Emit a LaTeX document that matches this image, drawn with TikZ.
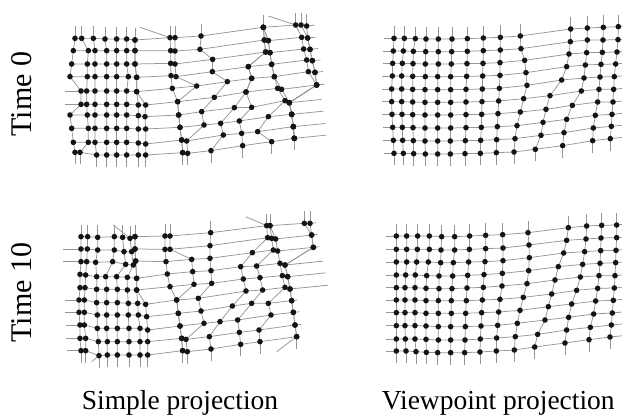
\documentclass[tikz,border=0pt]{standalone}
\usepackage{fontspec}
\setmainfont{Liberation Serif}
\definecolor{linegray}{RGB}{150,150,150}
\definecolor{dotblack}{RGB}{20,20,20}
\tikzset{
  gridline/.style={draw=linegray,line width=0.75pt},
  gdot/.style={fill=dotblack},
  sidelbl/.style={inner sep=0pt,anchor=base west,rotate=90,font=\fontsize{30}{32}\selectfont},
  botlbl/.style={inner sep=0pt,anchor=base west,font=\fontsize{27.5}{30}\selectfont}
}
\newcommand\mkcol[3]{\foreach \px/\py [count=\ri from 0] in {#3} {\coordinate (#1-#2-\ri) at (\px,\py);}}
\newcommand\gridpanel[2]{%
  \foreach \ci in {0,...,#2}{%
    \draw[gridline] (#1-\ci-0) \foreach \ri in {1,...,9}{ -- (#1-\ci-\ri)};
    \draw[gridline] (#1-\ci-0) -- ++(0,-12);
    \draw[gridline] (#1-\ci-9) -- ++(0,12);
  }
  \foreach \ri in {0,...,9}{%
    \draw[gridline] (#1-0-\ri) \foreach \ci in {1,...,#2}{ -- (#1-\ci-\ri)};
  }
}
\newcommand\dotpanel[2]{\foreach \ci in {0,...,#2}{\foreach \ri in {0,...,9}{\fill[gdot] (#1-\ci-\ri) circle (2.8);}}}
\newcommand\rstub[3]{\foreach \ri/\sl in {#3}{\draw[gridline] (#1-#2-\ri) -- ++(\sl,{-\sl/10});}}
\newcommand\lstub[2]{\foreach \ri/\sl in {#2}{\draw[gridline] (#1-0-\ri) -- ++(-\sl,0);}}
\begin{document}
\begin{tikzpicture}[x=1pt,y=-1pt]
\useasboundingbox (0,0) rectangle (622,417);
\clip (0,0) rectangle (622,417);

% ---------------- Top left: simple projection, time 0
\begin{scope}[shift={(55,15)},x=0.33333pt,y=-0.33333pt]
\mkcol{TL}{0}{60/70, 55/107, 50/147, 45/185, 78/228, 78/268, 45/300, 50/340, 55/382, 60/412}
\mkcol{TL}{1}{80/70, 100/107, 97/147, 97/185, 95/228, 95/268, 97/300, 100/340, 100/382, 75/412}
\mkcol{TL}{2}{115/70, 120/107, 120/147, 120/185, 120/228, 120/268, 120/300, 120/340, 120/382, 125/420}
\mkcol{TL}{3}{150/72, 155/107, 155/147, 155/185, 155/228, 155/268, 155/300, 155/340, 155/382, 155/420}
\mkcol{TL}{4}{185/72, 185/107, 185/147, 185/185, 185/228, 185/268, 185/300, 185/340, 185/382, 185/420}
\mkcol{TL}{5}{215/72, 215/107, 215/147, 220/185, 215/228, 215/268, 215/300, 215/340, 215/382, 215/420}
\mkcol{TL}{6}{240/75, 240/107, 240/147, 245/187, 245/230, 250/270, 250/302, 250/342, 250/384, 250/420}
\mkcol{TL}{7}{240/75, 240/107, 240/147, 245/187, 245/230, 272/270, 270/305, 272/342, 272/387, 272/420}
\end{scope}
\begin{scope}[shift={(50,10)},x=0.33333pt,y=-0.33333pt]
\mkcol{TL}{8}{360/83, 362/122, 362/160, 363/197, 367/235, 383/275, 386/315, 390/352, 395/390, 398/428}
\mkcol{TL}{9}{375/83, 375/123, 375/162, 378/200, 440/228, 383/275, 386/315, 390/352, 395/390, 398/428}
\end{scope}
\begin{scope}[shift={(175,10)},x=0.33333pt,y=-0.33333pt]
\mkcol{TL}{10}{78/78, 75/118, 113/148, 112/185, 157/215, 118/262, 80/305, 87/345, 35/393, 38/430}
\mkcol{TL}{11}{265/52, 268/90, 272/126, 220/170, 230/205, 213/246, 178/293, 137/340, 145/375, 108/422}
\mkcol{TL}{12}{265/52, 268/90, 272/126, 220/170, 230/205, 213/246, 230/292, 193/333, 200/370, 203/407}
\mkcol{TL}{13}{265/52, 280/92, 285/128, 290/163, 298/200, 308/235, 330/272, 280/320, 248/365, 290/395}
\mkcol{TL}{14}{265/52, 280/92, 285/128, 290/163, 298/200, 320/238, 343/278, 350/313, 355/350, 358/385}
\mkcol{TL}{15}{362/45, 380/82, 386/117, 395/150, 400/185, 425/225, 343/278, 350/313, 355/350, 358/385}
\mkcol{TL}{16}{378/45, 398/84, 405/118, 412/152, 420/187, 425/225, 343/278, 350/313, 355/350, 358/385}
\mkcol{TL}{17}{395/48, 398/84, 405/118, 412/152, 420/187, 425/225, 343/278, 350/313, 355/350, 358/385}
\end{scope}
\coordinate (tlsa) at (140,27.3);
\coordinate (tlsb) at (268.3,16);

% ---------------- Top right: viewpoint projection, time 0
\begin{scope}[shift={(370,10)},x=0.33333pt,y=-0.33333pt]
\mkcol{TR}{0}{72/85, 70/123, 68/160, 67/198, 65/237, 65/275, 66/313, 68/352, 70/391, 72/430}
\mkcol{TR}{1}{103/85, 100/123, 97/160, 95/198, 95/237, 95/275, 96/313, 97/352, 98/391, 100/430}
\mkcol{TR}{2}{136/86, 130/124, 129/161, 128/199, 128/238, 128/276, 128/314, 129/353, 130/392, 131/431}
\mkcol{TR}{3}{168/87, 167/125, 166/162, 166/200, 165/239, 165/277, 165/315, 165/354, 165/393, 166/432}
\mkcol{TR}{4}{205/87, 205/125, 205/162, 203/200, 203/239, 203/277, 203/315, 203/354, 203/393, 203/432}
\mkcol{TR}{5}{246/87, 245/125, 244/162, 242/200, 242/239, 242/277, 242/315, 242/354, 241/393, 241/432}
\mkcol{TR}{6}{292/86, 292/124, 291/161, 290/199, 288/238, 288/276, 288/314, 288/353, 286/392, 285/431}
\mkcol{TR}{7}{340/84, 340/122, 339/160, 338/198, 337/237, 336/275, 335/313, 334/352, 332/391, 331/430}
\mkcol{TR}{8}{391/82, 391/120, 390/158, 390/196, 388/235, 386/273, 384/311, 382/350, 380/389, 379/428}
\mkcol{TR}{9}{451/78, 453/116, 464/151, 468/188, 471/226, 461/266, 451/306, 441/347, 435/386, 432/426}
\mkcol{TR}{10}{602/57, 601/95, 597/132, 590/170, 575/210, 540/257, 528/298, 519/337, 513/376, 496/418}
\mkcol{TR}{11}{652/54, 652/90, 650/128, 646/165, 642/204, 634/243, 607/286, 590/328, 582/368, 578/407}
\mkcol{TR}{12}{700/52, 699/90, 697/127, 693/163, 690/201, 687/238, 683/276, 676/316, 670/354, 668/392}
\mkcol{TR}{13}{745/50, 744/89, 741/126, 737/162, 733/200, 731/238, 729/276, 726/313, 724/349, 721/386}
\end{scope}

% ---------------- Bottom left: simple projection, time 10
\begin{scope}[shift={(55,205)},x=0.33333pt,y=-0.33333pt]
\mkcol{BL}{0}{78/95, 78/132, 78/170, 75/208, 75/248, 72/285, 72/322, 75/360, 75/400, 78/437}
\mkcol{BL}{1}{98/95, 97/132, 95/170, 92/210, 90/248, 88/285, 88/322, 88/360, 92/400, 92/437}
\mkcol{BL}{2}{128/97, 128/135, 122/172, 125/215, 125/253, 125/293, 127/330, 127/370, 130/410, 132/452}
\mkcol{BL}{3}{178/95, 178/135, 173/170, 152/215, 155/253, 155/293, 155/330, 155/370, 157/410, 157/450}
\mkcol{BL}{4}{203/97, 207/140, 212/178, 185/215, 187/253, 187/293, 187/330, 187/370, 187/410, 187/450}
\mkcol{BL}{5}{225/100, 230/140, 235/180, 217/217, 217/255, 220/295, 220/330, 222/370, 222/410, 222/450}
\mkcol{BL}{6}{240/95, 240/132, 242/168, 245/220, 245/255, 248/295, 250/330, 255/370, 255/410, 255/450}
\mkcol{BL}{7}{240/95, 240/132, 242/168, 245/220, 245/255, 272/298, 275/335, 278/375, 278/410, 278/450}
\end{scope}
\begin{scope}[shift={(50,200)},x=0.33333pt,y=-0.33333pt]
\mkcol{BL}{8}{345/108, 345/148, 348/185, 352/222, 360/260, 380/300, 385/340, 390/378, 395/415, 398/452}
\mkcol{BL}{9}{360/108, 360/148, 425/178, 428/215, 432/253, 380/300, 385/340, 390/378, 395/415, 398/452}
\end{scope}
\begin{scope}[shift={(175,205)},x=0.33333pt,y=-0.33333pt]
\mkcol{BL}{10}{107/83, 105/122, 105/160, 108/197, 110/235, 70/280, 78/318, 87/355, 33/403, 37/440}
\mkcol{BL}{11}{275/62, 278/98, 232/143, 197/185, 205/222, 213/258, 172/303, 135/350, 103/395, 108/432}
\mkcol{BL}{12}{285/62, 290/100, 295/135, 245/183, 255/218, 263/255, 230/295, 188/345, 193/382, 197/418}
\mkcol{BL}{13}{285/62, 302/102, 308/138, 315/175, 322/212, 330/247, 280/295, 288/330, 252/375, 255/410}
\mkcol{BL}{14}{388/55, 410/90, 415/127, 330/180, 338/215, 345/252, 350/287, 355/322, 360/360, 365/395}
\mkcol{BL}{15}{405/55, 410/90, 415/127, 330/180, 338/215, 345/252, 350/287, 355/322, 360/360, 365/395}
\end{scope}
\coordinate (blsa) at (113.3,225);
\coordinate (blsb) at (245.7,216.7);
\coordinate (blsc) at (276.7,351.7);
\coordinate (blsd) at (91.7,361.7);

% ---------------- Bottom right: viewpoint projection, time 10
\begin{scope}[shift={(370,200)},x=0.33333pt,y=-0.33333pt]
\mkcol{BR}{0}{79/108, 79/148, 79/186, 79/225, 79/263, 79/300, 79/338, 79/377, 79/417, 79/453}
\mkcol{BR}{1}{110/108, 110/148, 110/186, 107/225, 105/263, 105/300, 105/338, 105/377, 106/417, 108/453}
\mkcol{BR}{2}{143/108, 142/148, 140/186, 136/225, 135/263, 135/300, 135/338, 135/377, 135/417, 138/455}
\mkcol{BR}{3}{178/108, 178/148, 175/186, 170/227, 168/265, 168/302, 168/340, 168/378, 168/418, 169/457}
\mkcol{BR}{4}{215/110, 213/150, 212/188, 207/228, 207/266, 205/302, 205/340, 205/380, 205/420, 203/458}
\mkcol{BR}{5}{254/110, 254/150, 250/188, 248/228, 246/266, 244/302, 244/340, 242/380, 242/420, 242/458}
\mkcol{BR}{6}{299/108, 298/148, 296/186, 293/226, 291/264, 289/302, 287/340, 286/380, 285/420, 284/458}
\mkcol{BR}{7}{347/106, 347/146, 345/185, 342/224, 340/262, 337/300, 335/338, 333/378, 331/417, 330/456}
\mkcol{BR}{8}{398/104, 399/144, 399/182, 397/220, 396/258, 390/298, 386/336, 383/376, 380/414, 379/453}
\mkcol{BR}{9}{474/98, 477/135, 478/173, 476/212, 471/251, 460/292, 450/331, 442/370, 436/410, 433/450}
\mkcol{BR}{10}{595/83, 590/121, 581/159, 565/200, 555/240, 545/282, 535/320, 525/360, 503/403, 494/441}
\mkcol{BR}{11}{650/78, 648/117, 644/155, 638/193, 631/231, 620/271, 605/312, 596/352, 590/390, 585/429}
\mkcol{BR}{12}{695/76, 693/114, 692/152, 690/190, 687/227, 683/265, 677/303, 671/342, 661/382, 657/419}
\mkcol{BR}{13}{740/75, 740/113, 738/151, 737/188, 735/227, 733/264, 730/301, 727/339, 724/375, 720/411}
\end{scope}

% ---------------- lines
\gridpanel{TL}{17}
\lstub{TL}{4/16, 5/16}
\rstub{TL}{17}{0/8, 1/8, 2/8, 3/8, 4/8, 5/8, 6/32, 7/32, 8/32, 9/32}
\draw[gridline] (tlsa) -- (TL-8-0);
\draw[gridline] (tlsb) -- (TL-15-0);

\gridpanel{TR}{13}
\lstub{TR}{0/10, 1/10, 2/10, 3/10, 4/10, 5/10, 6/10, 7/10, 8/10, 9/10}
\rstub{TR}{13}{0/15, 1/15, 2/15, 3/15, 4/15, 5/15, 6/15, 7/15, 8/15, 9/15}

\gridpanel{BL}{15}
\lstub{BL}{1/18, 2/18, 5/14, 6/14, 7/14, 8/14, 9/14}
\rstub{BL}{15}{0/6, 1/6, 2/6, 3/38, 4/38, 5/38, 6/6, 7/6, 8/6}
\draw[gridline] (blsa) -- (BL-5-0);
\draw[gridline] (blsb) -- (BL-11-0);
\draw[gridline] (blsc) -- (BL-14-9);
\draw[gridline] (blsd) -- (BL-2-9);

\gridpanel{BR}{13}
\lstub{BR}{0/10, 1/10, 2/10, 3/10, 4/10, 5/10, 6/10, 7/10, 8/10, 9/10}
\rstub{BR}{13}{0/15, 1/15, 2/15, 3/15, 4/15, 5/15, 6/15, 7/15, 8/15, 9/15}

% ---------------- dots
\dotpanel{TL}{17}
\dotpanel{TR}{13}
\dotpanel{BL}{15}
\dotpanel{BR}{13}

% ---------------- labels
\node[sidelbl] (lt0) at (31.7,136.7) {Time 0};
\node[sidelbl] (lt10) at (31.7,342.7) {Time 10};
\node[botlbl] (lsp) at (81.7,409.5) {Simple projection};
\node[botlbl] (lvp) at (381.7,409.5) {Viewpoint projection};
\end{tikzpicture}
\end{document}
